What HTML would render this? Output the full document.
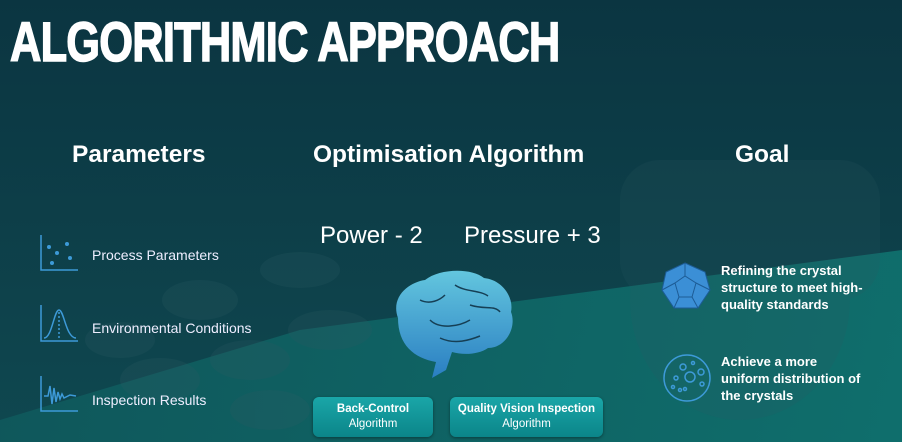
<!DOCTYPE html>
<html><head><meta charset="utf-8"><style>
*{margin:0;padding:0;box-sizing:border-box}
body{width:902px;height:442px;overflow:hidden;font-family:"Liberation Sans",sans-serif;color:#fff;position:relative;background:#0e3b46}
.bg{position:absolute;inset:0}
.t{position:absolute;white-space:nowrap}
h1{position:absolute;left:10px;top:9px;font-size:56px;font-weight:bold;letter-spacing:-1px;transform:scaleX(0.775);transform-origin:left top;white-space:nowrap;-webkit-text-stroke:1.5px #fff}
.h{font-size:24.5px;top:141px;font-weight:bold}
.p{font-size:14px;color:#eef}
.g{font-size:13px;font-weight:bold;line-height:17px}
.btn{position:absolute;top:397px;height:40px;border-radius:6px;background:linear-gradient(#1aa6a8,#0b8589);text-align:center;font-size:11.5px;line-height:15px;padding-top:5px;box-shadow:0 1px 3px rgba(0,0,0,.4)}
</style></head><body>
<svg class="bg" width="902" height="442">
<defs>
<linearGradient id="bg" x1="0" y1="0" x2="0" y2="1"><stop offset="0" stop-color="#0b3541"/><stop offset="1" stop-color="#0f4850"/></linearGradient>
<linearGradient id="band" x1="0" y1="0" x2="1" y2="0"><stop offset="0" stop-color="#0f5a5d"/><stop offset="1" stop-color="#0f7571"/></linearGradient>
<linearGradient id="br" x1="0" y1="0" x2="0" y2="1"><stop offset="0" stop-color="#63c6de"/><stop offset="1" stop-color="#2a7ec2"/></linearGradient>
</defs>
<rect width="902" height="442" fill="url(#bg)"/>
<polygon points="0,442 0,420 300,330 902,250 902,442" fill="url(#band)" opacity="0.85"/>
<g fill="#2c5a62" opacity="0.25">
<ellipse cx="300" cy="270" rx="40" ry="18"/><ellipse cx="200" cy="300" rx="38" ry="20"/><ellipse cx="330" cy="330" rx="42" ry="20"/><ellipse cx="250" cy="360" rx="40" ry="20"/><ellipse cx="160" cy="380" rx="40" ry="22"/><ellipse cx="120" cy="340" rx="35" ry="18"/><ellipse cx="270" cy="410" rx="40" ry="20"/>
</g>
<g fill="#2c5a62" opacity="0.18"><ellipse cx="740" cy="300" rx="110" ry="120"/><rect x="620" y="160" width="260" height="140" rx="40"/></g>
<g stroke="#3d9ad8" stroke-width="1.5" fill="none">
<path d="M41 235V270H78"/><path d="M41 305V341H78"/><path d="M41 376V411H78"/>
<path d="M44 338C52 338 54 310 59 310C64 310 66 338 76 338"/><path d="M59 312V338" stroke-dasharray="2 2"/>
<path d="M44 396L48 396L50 386L52 404L54 388L56 402L58 392L60 399L62 394L64 398L70 395L76 396"/>
<circle cx="687" cy="378" r="23"/><circle cx="690" cy="377" r="5"/><circle cx="683" cy="367" r="3"/><circle cx="701" cy="372" r="3"/><circle cx="676" cy="378" r="2"/><circle cx="702" cy="384" r="2"/><circle cx="673" cy="387" r="1.5"/><circle cx="680" cy="390" r="1.5"/><circle cx="685" cy="389" r="1.5"/><circle cx="693" cy="363" r="1.5"/>
</g>
<g fill="#3d9ad8"><circle cx="49" cy="247" r="2"/><circle cx="67" cy="244" r="2"/><circle cx="57" cy="253" r="2"/><circle cx="70" cy="258" r="2"/><circle cx="52" cy="263" r="2"/></g>
<polygon points="685,263 705,272 710,290 698,308 674,308 662,290 666,272" fill="#3b8fd6" stroke="#1d5c96"/>
<path d="M675 283L685 276L696 283L692 297L679 297Z M685 263V276 M696 283L710 290 M692 297L698 308 M679 297L674 308 M675 283L662 290" stroke="#1d5c96" fill="none"/>
<path d="M398 318C390 296 410 282 425 280C440 268 472 268 484 278C503 280 514 298 511 312C517 327 506 348 488 348C478 355 462 355 452 352L446 370L432 378L436 362C414 358 398 345 398 318Z" fill="url(#br)"/>
<g stroke="#163f55" stroke-width="1.5" fill="none"><path d="M420 300C430 305 440 300 445 295"/><path d="M430 320C440 330 460 326 470 320"/><path d="M455 285C465 292 480 290 488 296"/><path d="M470 305C485 310 495 305 500 312"/><path d="M440 338C455 345 470 340 480 336"/></g>
</svg>
<h1>ALGORITHMIC APPROACH</h1>
<div class="t h" style="left:72px">Parameters</div>
<div class="t h" style="left:313px">Optimisation Algorithm</div>
<div class="t h" style="left:735px">Goal</div>
<div class="t" style="left:320px;top:222px;font-size:24px">Power - 2</div>
<div class="t" style="left:464px;top:222px;font-size:24px">Pressure + 3</div>
<div class="t p" style="left:92px;top:247px">Process Parameters</div>
<div class="t p" style="left:92px;top:320px">Environmental Conditions</div>
<div class="t p" style="left:92px;top:392px">Inspection Results</div>
<div class="t g" style="left:721px;top:262px">Refining the crystal<br>structure to meet high-<br>quality standards</div>
<div class="t g" style="left:721px;top:353px">Achieve a more<br>uniform distribution of<br>the crystals</div>
<div class="btn" style="left:313px;width:120px"><b>Back-Control</b><br>Algorithm</div>
<div class="btn" style="left:450px;width:153px"><b>Quality Vision Inspection</b><br>Algorithm</div>
</body></html>
